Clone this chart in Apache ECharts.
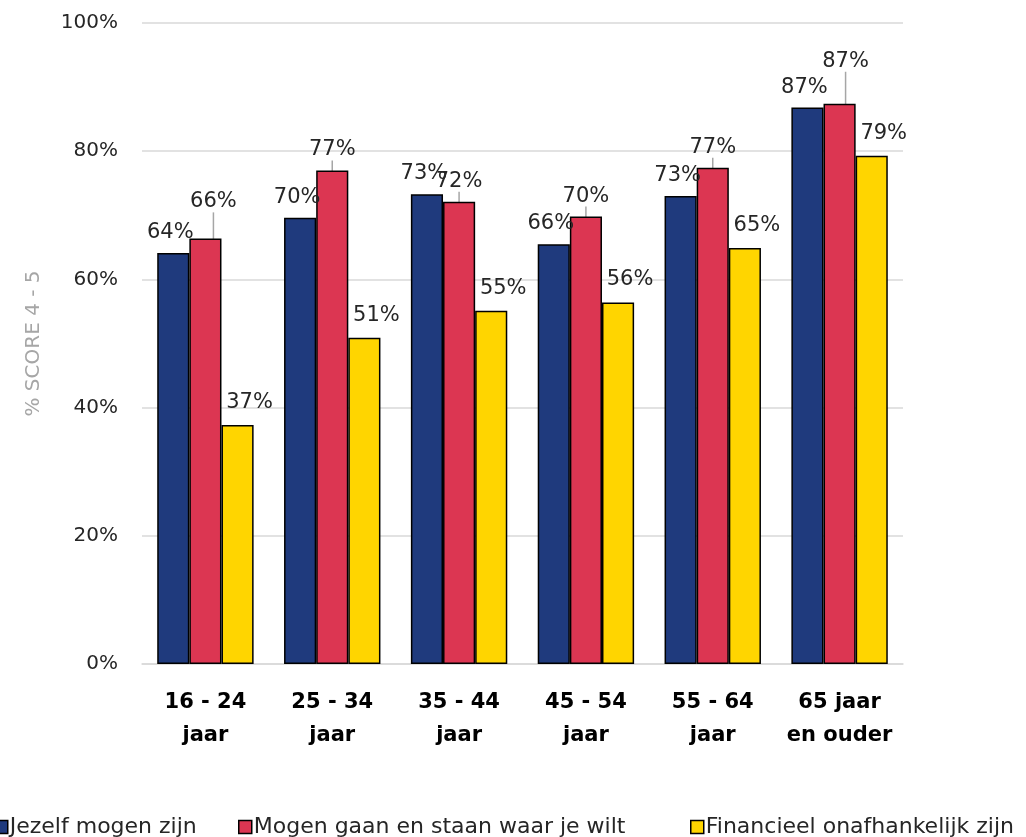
<!DOCTYPE html>
<html><head><meta charset="utf-8">
<script src="https://cdn.jsdelivr.net/npm/echarts@6/dist/echarts.min.js"></script>
<style>html,body{margin:0;padding:0;background:#fff}#c{width:1026px;height:837px}</style>
</head><body><div id="c"></div>
<script>
const categories = ['16 - 24\njaar', '25 - 34\njaar', '35 - 44\njaar', '45 - 54\njaar', '55 - 64\njaar', '65 jaar\nen ouder'];
const seriesNames = ['Jezelf mogen zijn', 'Mogen gaan en staan waar je wilt', 'Financieel onafhankelijk zijn'];
const jezelf = [64.1, 69.6, 73.3, 65.5, 73.0, 86.8];
const mogenGaan = [66.4, 77.0, 72.1, 69.8, 77.4, 87.4];
const financieel = [37.3, 50.9, 55.1, 56.4, 64.9, 79.3];
const yTicks = [0, 20, 40, 60, 80, 100];
const colors = ['#1F3A7D', '#DC3652', '#FFD500'];
const FONT = '"DejaVu Sans", sans-serif';
const legendLefts = [-6, 238, 690];

const chart = echarts.init(document.getElementById('c'));
function lbl(extra) {
  return Object.assign({
    show: true, position: 'top', distance: 10,
    fontFamily: FONT, fontSize: 21, color: '#262626',
    formatter: p => Math.round(p.value) + '%'
  }, extra || {});
}
const barBase = {type: 'bar', barGap: '0%', barCategoryGap: '24%'};
chart.setOption({
  animation: false,
  grid: {left: 142, right: 123, top: 23, bottom: 173},
  legend: seriesNames.map((n, i) => ({
    left: legendLefts[i], top: 816, padding: 0, itemWidth: 13, itemHeight: 13,
    icon: 'rect',
    textStyle: {fontFamily: FONT, fontSize: 22, color: '#262626', padding: [0, 0, 0, -3]},
    data: [{name: n, itemStyle: {borderColor: '#000', borderWidth: 1.5}}]
  })),
  xAxis: {
    type: 'category', data: categories,
    axisLine: {lineStyle: {color: '#d9d9d9', width: 1.5}},
    axisTick: {show: false},
    axisLabel: {interval: 0, fontFamily: FONT, fontSize: 21, fontWeight: 'bold', color: '#000', margin: 22, lineHeight: 33}
  },
  yAxis: {
    type: 'value', min: 0, max: 100, interval: 20,
    name: '% SCORE 4 - 5', nameLocation: 'middle', nameGap: 98, nameRotate: 90,
    nameTextStyle: {fontFamily: FONT, fontSize: 20, color: '#a6a6a6'},
    axisLine: {show: false}, axisTick: {show: false},
    splitLine: {lineStyle: {color: '#d9d9d9', width: 1.5}},
    axisLabel: {fontFamily: FONT, fontSize: 20, color: '#262626', margin: 24,
      formatter: v => yTicks.includes(v) ? v + '%' : ''}
  },
  series: [
    Object.assign({}, barBase, {name: seriesNames[0], data: jezelf, itemStyle: {color: colors[0], borderColor: '#000', borderWidth: 1.5}, label: lbl({offset: [-3, 0]})}),
    Object.assign({}, barBase, {name: seriesNames[1], itemStyle: {color: colors[1], borderColor: '#000', borderWidth: 1.5},
      data: mogenGaan.map((v, i) => {
        const o = {value: v};
        if (i === 2) o.label = {offset: [17, 0]};
        return o;
      }),
      label: lbl(),
      labelLine: {show: true, lineStyle: {color: '#a6a6a6', width: 1.5}},
      labelLayout: p => {
        if (p.dataIndex === 0) return {dx: 8, dy: -16};
        if (p.dataIndex === 5) return {dx: 6, dy: -22};
        return {};
      }
    }),
    Object.assign({}, barBase, {name: seriesNames[2], data: financieel, itemStyle: {color: colors[2], borderColor: '#000', borderWidth: 1.5}, label: lbl({offset: [12, -2]})})
  ]
});
</script></body></html>
